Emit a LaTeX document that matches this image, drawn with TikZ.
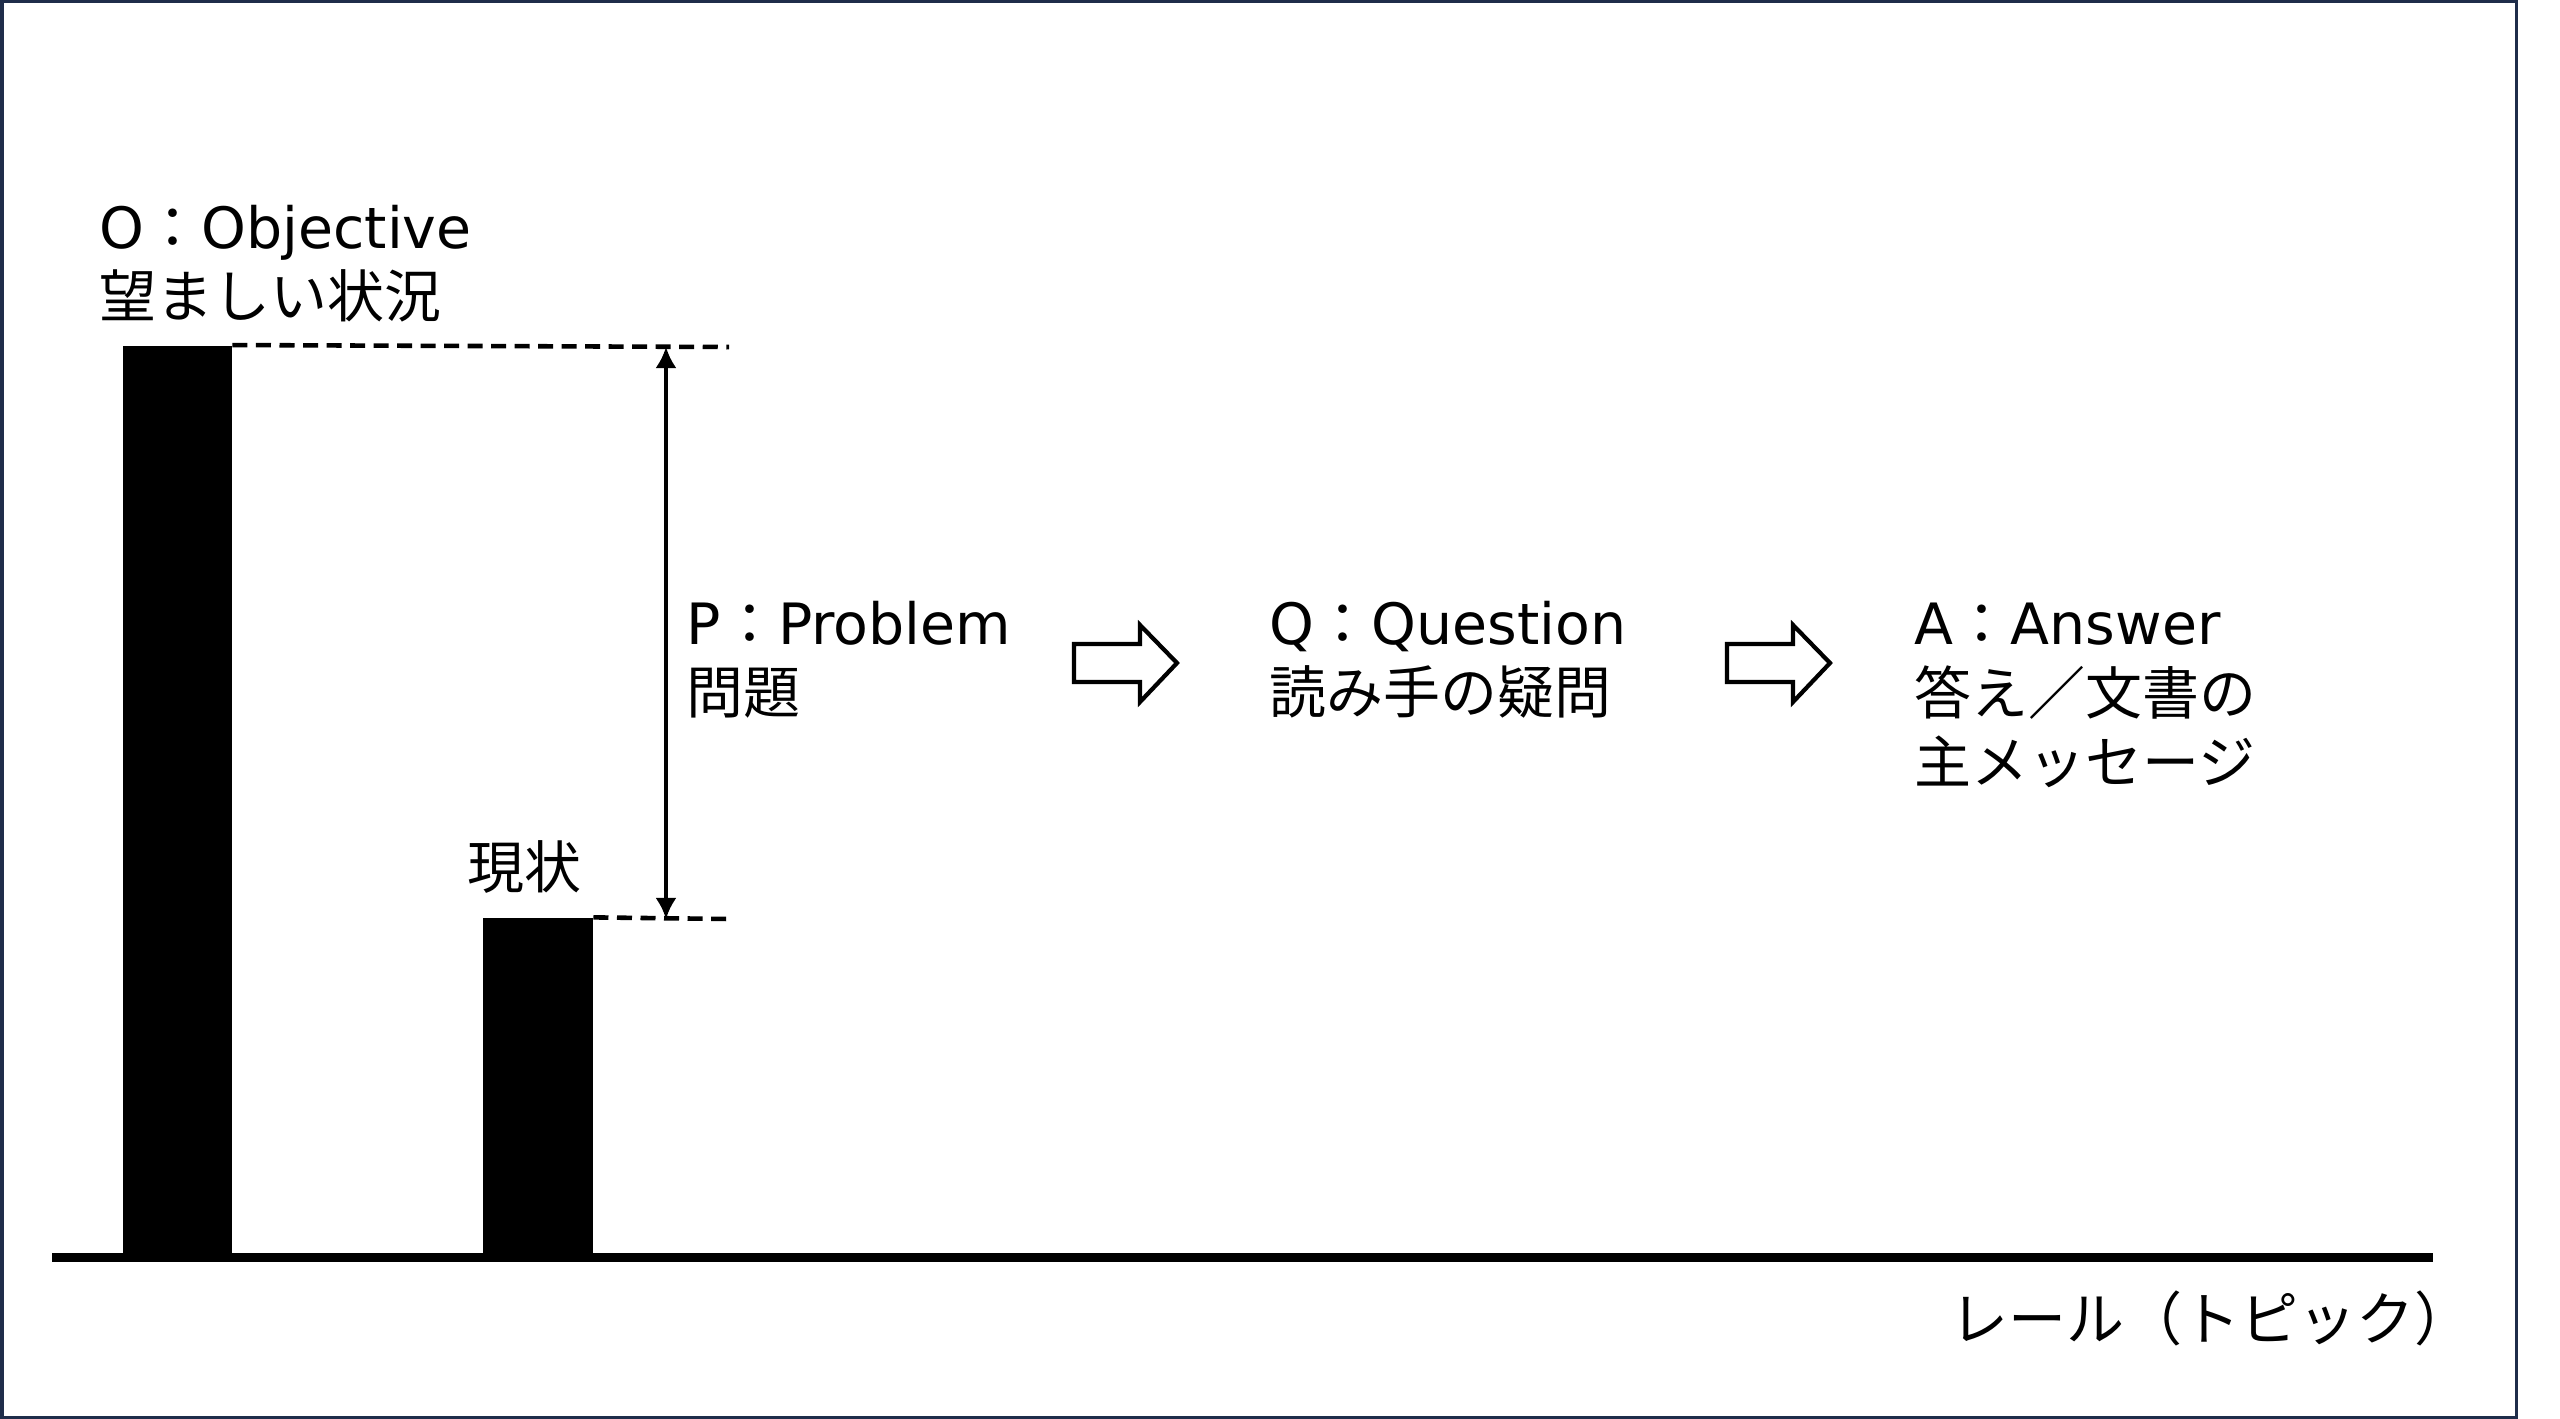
\documentclass[tikz,border=0pt]{standalone}
\usepackage{fontspec}
\setmainfont{DejaVu Sans}
\newfontfamily\jpfont{Noto Sans CJK JP}
\usetikzlibrary{arrows.meta}
\definecolor{framenavy}{HTML}{1F2D4A}
\tikzset{%
  bar/.style={rectangle, fill=black, inner sep=0pt, anchor=south west},
  dashline/.style={line width=1.3pt, dash pattern=on 0.15cm off 0.085cm},
  textblock/.style={inner sep=0pt, anchor=base west, align=left,
    font=\fontsize{16.2pt}{19.8pt}\selectfont},
  hollow/.style={draw=black, fill=white, line width=1.2pt, line join=miter},
}
\newcommand{\jcolon}{{\jpfont ：}}

\begin{document}
\begin{tikzpicture}[x=0.01cm, y=-0.01cm]
  \useasboundingbox (0,0) rectangle (2560,1419);
  \fill[white] (0,0) rectangle (2560,1419);
  \draw[framenavy, line width=0.035cm] (1.75,1.75) rectangle (2516.25,1417.25);
  % bars and rail
  \node[bar, minimum width=1.09cm, minimum height=9.1cm] (objbar) at (122,1257) {};
  \node[bar, minimum width=1.10cm, minimum height=3.38cm] (curbar) at (482,1257) {};
  \draw[line width=0.09cm] (52,1257.5) -- (2433,1257.5);
  % gap between the two levels
  \coordinate (objend) at (729,347);
  \coordinate (curend) at (729,919);
  \draw[dashline] (objbar.north east) -- (objend);
  \draw[dashline] (curbar.north east) -- (curend);
  \coordinate (gaptop) at (666,347);
  \coordinate (gapbot) at (666,919);
  \draw[line width=1pt, {Latex[length=0.21cm,width=0.21cm]}-{Latex[length=0.21cm,width=0.21cm]}] (gaptop) -- (gapbot);
  % labels (base = last line)
  \node[textblock] (objlbl) at (99,318) {O\jcolon Objective\\{\jpfont 望ましい状況}};
  \node[textblock] (curlbl) at (467,889) {\jpfont 現状};
  \node[textblock] (problbl) at (686,714) {P\jcolon Problem\\{\jpfont 問題}};
  \node[textblock] (queslbl) at (1269,714) {Q\jcolon Question\\{\jpfont 読み手の疑問}};
  \node[textblock] (anslbl) at (1914,784) {A\jcolon Answer\\{\jpfont 答え／文書の}\\{\jpfont 主メッセージ}};
  \node[textblock] (raillbl) at (1950,1340) {\jpfont\fontsize{16.5pt}{19.8pt}\selectfont レール（トピック）};
  % hollow arrows P -> Q -> A
  \foreach \ax in {1074,1727}{
    \draw[hollow] (\ax,644) -- ++(66,0) -- ++(0,-19) -- ++(37,38) -- ++(-37,39)
      -- ++(0,-20) -- ++(-66,0) -- cycle;
  }
\end{tikzpicture}
\end{document}
